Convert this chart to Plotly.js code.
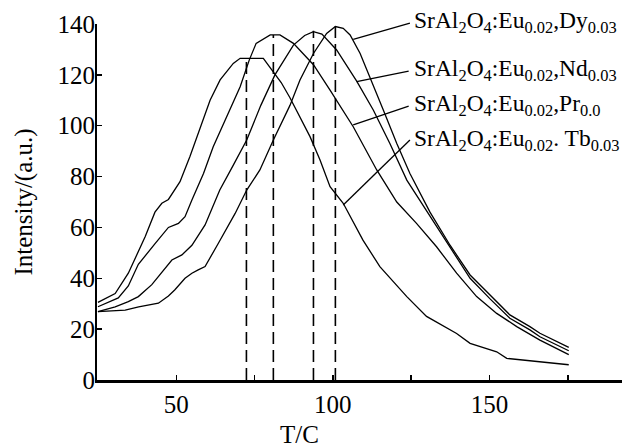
<!DOCTYPE html>
<html>
<head>
<meta charset="utf-8">
<script src="https://cdn.plot.ly/plotly-3.0.1.min.js"></script>
<style>html,body{margin:0;padding:0;background:#fff;}#chart{width:622px;height:448px;}</style>
</head>
<body>
<div id="chart"></div>
<script>
// ---- data ----
const T_Tb = [25, 30.5, 34.7, 36.5, 40.1, 43.2, 45.4, 47.5, 51.2, 54.4, 57.6, 60.8, 64, 68.2, 70.4, 74, 77.8, 80.5, 83.5, 86.3, 89.5, 92.7, 95.9, 99.1, 103.3, 109.6, 115, 123.6, 129.9, 139.5, 143.8, 152.3, 155.5, 166.1, 175.3];
const I_Tb = [30.5, 34, 42, 47, 56.4, 66, 69.5, 71, 78, 88, 99, 110, 118, 124.5, 126.5, 126.5, 126.5, 122, 117, 111, 103.5, 95.7, 86.5, 76, 69.5, 55, 44.6, 32.8, 25, 18.3, 14.4, 11.1, 8.5, 7.2, 6];

const T_Pr = [25, 31.5, 34.7, 37.9, 43.3, 47.5, 50.7, 52.8, 55, 58.7, 61.8, 66.1, 70.4, 73.3, 75.5, 80, 83.1, 87.4, 93.8, 99.1, 106.5, 114, 120.4, 126.7, 133.1, 139.5, 145.9, 152.3, 158.7, 166.1, 175.3];
const I_Pr = [28.8, 32.3, 37, 45.5, 53.7, 60, 61.6, 64.2, 70.8, 81.2, 91.7, 103.5, 115.3, 125.8, 132.4, 135.7, 135.7, 132.4, 124, 114, 99.6, 82.6, 70, 61.6, 52.4, 42, 32.8, 26.2, 21, 15.7, 10];

const T_Nd = [25, 30.5, 34.7, 37.9, 42.2, 46.4, 48.6, 51.8, 55, 59.2, 63.9, 68, 72.5, 77, 81.5, 87.4, 91, 93.8, 96.5, 101.2, 107.6, 112.9, 118.2, 123.6, 131, 137.4, 143.8, 150.1, 156.5, 162.9, 166.1, 175.3];
const I_Nd = [26.9, 28.8, 30.8, 32.8, 37.5, 44, 47.2, 49.2, 53, 61, 74.7, 84, 94.4, 108, 120, 131.7, 135.5, 137, 136, 129.8, 117.5, 106.2, 93, 78.6, 64.5, 51.8, 40, 32, 24.3, 19.7, 17, 11.5];

const T_Dy = [25, 33.7, 38, 44.3, 47.5, 49.5, 52.8, 55, 57, 59.2, 63.4, 68.8, 72.5, 76.7, 81, 86.3, 89.5, 93.8, 98, 100.8, 103.3, 105.5, 108.7, 111.8, 116.1, 120.4, 124.6, 131, 137.4, 143.8, 150.1, 156.5, 162.9, 166.1, 175.3];
const I_Dy = [26.9, 27.5, 28.8, 30.2, 33, 35.4, 40, 42, 43.3, 44.6, 53.7, 65.5, 74.7, 82.6, 94.4, 108, 118, 128.4, 136.3, 139, 138.3, 135.7, 128.4, 119.3, 106.2, 93, 81.2, 66, 53, 41.3, 33.5, 25.6, 21, 18.4, 12.8];

// peak positions (dashed drop lines)
const peakT = [72.4, 81, 93.8, 100.8];
const peakI = [126.5, 135.7, 137.3, 139];

// labels and leader lines (leader ends in data units)
const labels = [
  "SrAl<sub>2</sub>O<sub>4</sub>:Eu<sub>0.02</sub>,Dy<sub>0.03</sub>",
  "SrAl<sub>2</sub>O<sub>4</sub>:Eu<sub>0.02</sub>,Nd<sub>0.03</sub>",
  "SrAl<sub>2</sub>O<sub>4</sub>:Eu<sub>0.02</sub>,Pr<sub>0.0</sub>",
  "SrAl<sub>2</sub>O<sub>4</sub>:Eu<sub>0.02</sub>. Tb<sub>0.03</sub>"
];
const leadEndT = [106.5, 107.6, 106.5, 103.3];
const leadEndI = [134, 117.3, 100.3, 68.8];
const leadTailT = [124.6, 124.2, 124.2, 124.6];
const leadTailI = [140.3, 121.5, 107.7, 94.4];
const labelT = 125.4;
const labelI = [140.6, 121.9, 108.1, 94.2];

const yTickVals = [0, 20, 40, 60, 80, 100, 120, 140];
const xRange = [24.7, 192.3];
const yRange = [0, 140];

const serif = "Liberation Serif, Times New Roman, serif";
const curveLine = {color: "#000", width: 1.3};
const xp = t => (t - xRange[0]) / (xRange[1] - xRange[0]);
const yp = v => (v - yRange[0]) / (yRange[1] - yRange[0]);

const traces = [
  {x: T_Tb, y: I_Tb, mode: "lines", line: curveLine, hoverinfo: "skip"},
  {x: T_Pr, y: I_Pr, mode: "lines", line: curveLine, hoverinfo: "skip"},
  {x: T_Nd, y: I_Nd, mode: "lines", line: curveLine, hoverinfo: "skip"},
  {x: T_Dy, y: I_Dy, mode: "lines", line: curveLine, hoverinfo: "skip"}
];
peakT.forEach((t, i) => {
  traces.push({x: [t, t], y: [0, peakI[i]], mode: "lines",
    line: {color: "#000", width: 1.6, dash: "12px,6px"}, hoverinfo: "skip"});
});

const shapes = labels.map((_, i) => ({
  type: "line", xref: "paper", yref: "paper",
  x0: xp(leadEndT[i]), y0: yp(leadEndI[i]), x1: xp(leadTailT[i]), y1: yp(leadTailI[i]),
  line: {color: "#000", width: 1.3}
}));

const annotations = labels.map((txt, i) => ({
  x: xp(labelT), y: yp(labelI[i]), xref: "paper", yref: "paper",
  text: txt, showarrow: false, xanchor: "left", yanchor: "middle",
  font: {family: serif, size: 23.5, color: "#000"}
}));
annotations.push({
  x: xp(89.5), y: -0.152, xref: "paper", yref: "paper", yanchor: "middle",
  text: "T/C", showarrow: false, font: {family: serif, size: 25, color: "#000"}
});

const layout = {
  width: 622, height: 448,
  margin: {l: 97, r: 0, t: 24, b: 68},
  paper_bgcolor: "#fff", plot_bgcolor: "#fff",
  showlegend: false,
  font: {family: serif, color: "#000"},
  xaxis: {
    range: xRange, showgrid: false, zeroline: false,
    showline: true, linecolor: "#000", linewidth: 2.5,
    tick0: 0, dtick: 50,
    ticks: "inside", ticklen: 5, tickwidth: 1.5, tickcolor: "#000",
    minor: {dtick: 25, tick0: 0, ticks: "inside", ticklen: 5, tickwidth: 1.5, tickcolor: "#000", showgrid: false},
    tickfont: {family: serif, size: 25, color: "#000"}
  },
  yaxis: {
    range: yRange, showgrid: false, zeroline: false,
    showline: true, linecolor: "#000", linewidth: 2,
    tickmode: "array", tickvals: yTickVals,
    ticks: "inside", ticklen: 5, tickwidth: 1.5, tickcolor: "#000",
    ticklabelstandoff: -5,
    tickfont: {family: serif, size: 25, color: "#000"},
    title: {text: "Intensity/(a.u.)", font: {family: serif, size: 25, color: "#000"}, standoff: 18}
  },
  shapes: shapes,
  annotations: annotations
};

Plotly.newPlot("chart", traces, layout, {staticPlot: true, displayModeBar: false});
</script>
</body>
</html>
